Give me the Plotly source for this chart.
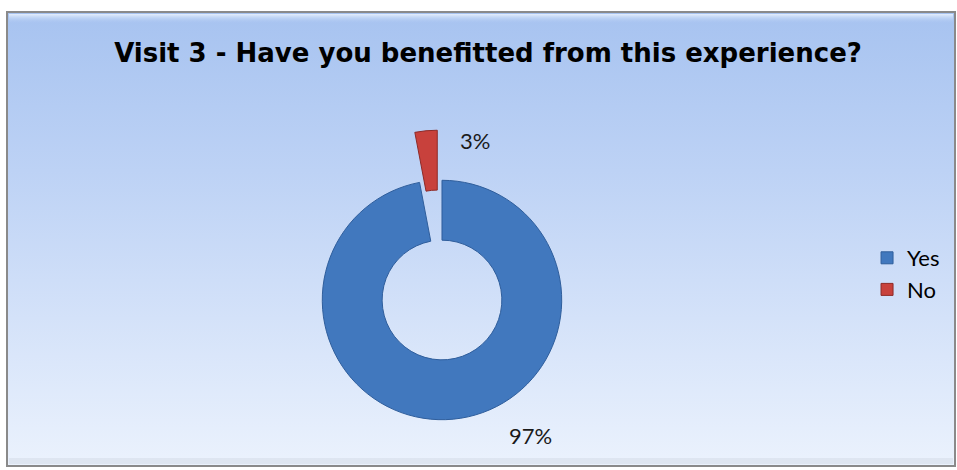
import plotly.graph_objects as go
import base64

# ---- data ----
title_text = "Visit 3 - Have you benefitted from this experience?"
labels = ["Yes", "No"]
values = [97, 3]
slice_colors = ["#4178BE", "#C8413C"]
slice_lines = ["#2F5E9C", "#8E2A27"]
pulls = [0, 0.42]

W, H = 957, 470

# background gradient panel as an SVG image
svg = f'''<svg xmlns="http://www.w3.org/2000/svg" width="{W}" height="{H}" viewBox="0 0 {W} {H}">
<defs>
<linearGradient id="g" x1="0" y1="0" x2="0" y2="1">
<stop offset="0" stop-color="#A7C3F0"/>
<stop offset="0.35" stop-color="#BDD2F5"/>
<stop offset="1" stop-color="#EBF2FD"/>
</linearGradient>
<linearGradient id="t" x1="0" y1="0" x2="0" y2="1">
<stop offset="0" stop-color="#E4EEFC"/>
<stop offset="1" stop-color="#A7C3F0" stop-opacity="0"/>
</linearGradient>
</defs>
<rect x="0" y="0" width="{W}" height="{H}" fill="#FFFFFF"/>
<rect x="7" y="12" width="{W-9}" height="{H-16}" fill="url(#g)" stroke="#8A8A8A" stroke-width="2"/>
<rect x="9" y="14" width="{W-13}" height="10" fill="url(#t)"/>
<rect x="9" y="{H-12}" width="{W-13}" height="6" fill="#D6DEEA" opacity="0.6"/>
</svg>'''
src = "data:image/svg+xml;base64," + base64.b64encode(svg.encode()).decode()

total = sum(values)
pct_text = [f"{round(v / total * 100)}%" for v in values]

fig = go.Figure()
fig.add_trace(go.Pie(
    labels=labels,
    values=values,
    hole=0.5,
    sort=False,
    direction="clockwise",
    rotation=0,
    pull=pulls,
    marker=dict(colors=slice_colors, line=dict(color=slice_lines, width=1)),
    textinfo="none",
    hoverinfo="label+percent",
    domain=dict(x=[0.2769, 0.6468], y=[0.0, 0.7234]),
    showlegend=True,
))

# percentage labels (texts derived from data)
label_pos = [(530, 435), (475, 140)]
for (px, py), t in zip(label_pos, pct_text):
    fig.add_annotation(
        x=px / W, y=1 - py / H, xref="paper", yref="paper",
        text=t, showarrow=False,
        font=dict(family="Lato", size=22, color="#1A1A1A"),
        xanchor="center", yanchor="middle",
    )

fig.update_layout(
    width=W, height=H,
    margin=dict(l=0, r=0, t=0, b=0),
    paper_bgcolor="rgba(0,0,0,0)",
    plot_bgcolor="rgba(0,0,0,0)",
    title=dict(
        text=f"<b>{title_text}</b>",
        x=488 / W, xanchor="center",
        y=1 - 53 / H, yanchor="middle",
        font=dict(family="DejaVu Sans", size=26, color="#000000"),
    ),
    legend=dict(
        x=0.906, y=1 - 274 / H, xanchor="left", yanchor="middle",
        font=dict(family="Lato", size=22, color="#000000"),
        bgcolor="rgba(0,0,0,0)",
        itemwidth=30,
        traceorder="normal",
    ),
    images=[dict(
        source=src, xref="paper", yref="paper",
        x=0, y=1, sizex=1, sizey=1,
        xanchor="left", yanchor="top",
        sizing="stretch", layer="below",
    )],
)

fig.write_html("out.html")
